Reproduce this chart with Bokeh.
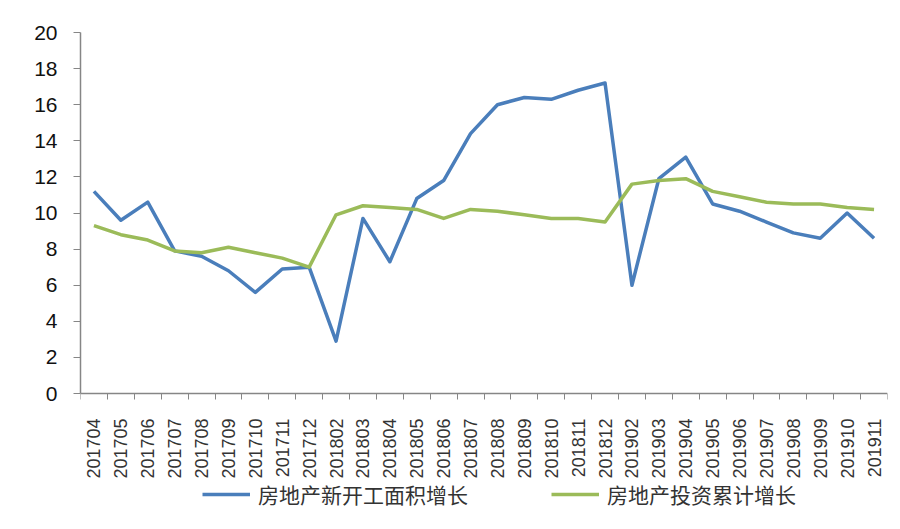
import numpy as np
from bokeh.plotting import figure
from bokeh.models import Range1d, FixedTicker, Legend, LegendItem
from bokeh.embed import file_html
from bokeh.resources import INLINE

months = ["201704", "201705", "201706", "201707", "201708", "201709", "201710", "201711", "201712",
          "201802", "201803", "201804", "201805", "201806", "201807", "201808", "201809", "201810",
          "201811", "201812", "201902", "201903", "201904", "201905", "201906", "201907", "201908",
          "201909", "201910", "201911"]

new_start_growth = [11.2, 9.6, 10.6, 7.9, 7.6, 6.8, 5.6, 6.9, 7.0,
                    2.9, 9.7, 7.3, 10.8, 11.8, 14.4, 16.0, 16.4, 16.3, 16.8, 17.2,
                    6.0, 11.9, 13.1, 10.5, 10.1, 9.5, 8.9, 8.6, 10.0, 8.6]

invest_growth = [9.3, 8.8, 8.5, 7.9, 7.8, 8.1, 7.8, 7.5, 7.0,
                 9.9, 10.4, 10.3, 10.2, 9.7, 10.2, 10.1, 9.9, 9.7, 9.7, 9.5,
                 11.6, 11.8, 11.9, 11.2, 10.9, 10.6, 10.5, 10.5, 10.3, 10.2]

y_ticks = [0, 2, 4, 6, 8, 10, 12, 14, 16, 18, 20]

series_names = ["房地产新开工面积增长", "房地产投资累计增长"]

n = len(months)
xs = np.arange(n)

# frame spans page y 32..513; value 0 sits at y=393 (18.05 px per unit)
p = figure(width=892, height=521, output_backend="svg", toolbar_location=None,
           x_range=Range1d(-0.5, n - 0.5), y_range=Range1d(-6.648, 20),
           min_border_left=80, min_border_right=5, min_border_top=32, min_border_bottom=8)
p.outline_line_color = None
p.grid.visible = False
p.background_fill_color = "white"

r1 = p.line(xs, new_start_growth, line_color="#4A7EBB", line_width=3.5, line_join="round")
r2 = p.line(xs, invest_growth, line_color="#9BBB59", line_width=3.5, line_join="round")

# x axis, pinned at value 0
xa = p.xaxis[0]
xa.fixed_location = 0
xa.ticker = FixedTicker(ticks=list(xs), minor_ticks=[i - 0.5 for i in range(n + 1)])
xa.major_label_overrides = {int(i): m for i, m in zip(xs, months)}
xa.major_label_orientation = np.pi / 2
xa.major_tick_out = 0
xa.major_tick_in = 0
xa.minor_tick_out = 6
xa.minor_tick_in = 0
xa.minor_tick_line_color = "#868686"
xa.axis_line_color = "#868686"
xa.axis_line_width = 1.5
xa.major_label_text_font = "Liberation Sans"
xa.major_label_text_font_size = "18px"
xa.major_label_text_color = "#333333"
xa.major_label_standoff = 19

# y axis
ya = p.yaxis[0]
ya.bounds = (0, 20)
ya.ticker = FixedTicker(ticks=y_ticks)
ya.minor_tick_line_color = None
ya.major_tick_out = 7
ya.major_tick_in = 0
ya.major_tick_line_color = "#868686"
ya.axis_line_color = "#868686"
ya.axis_line_width = 1.5
ya.major_label_text_font = "Liberation Sans"
ya.major_label_text_font_size = "21px"
ya.major_label_text_color = "#111111"
ya.major_label_standoff = 16

legend = Legend(items=[LegendItem(label=series_names[0], renderers=[r1]),
                       LegendItem(label=series_names[1], renderers=[r2])],
                orientation="horizontal", location=(122, 4),
                padding=0, margin=0, spacing=83, glyph_width=48, glyph_height=24,
                label_height=24, label_standoff=8,
                label_text_font="Noto Sans CJK SC", label_text_font_size="21px",
                label_text_color="#333333",
                border_line_color=None, background_fill_alpha=0)
p.add_layout(legend, "center")

open("out.html", "w").write(file_html(p, INLINE))
